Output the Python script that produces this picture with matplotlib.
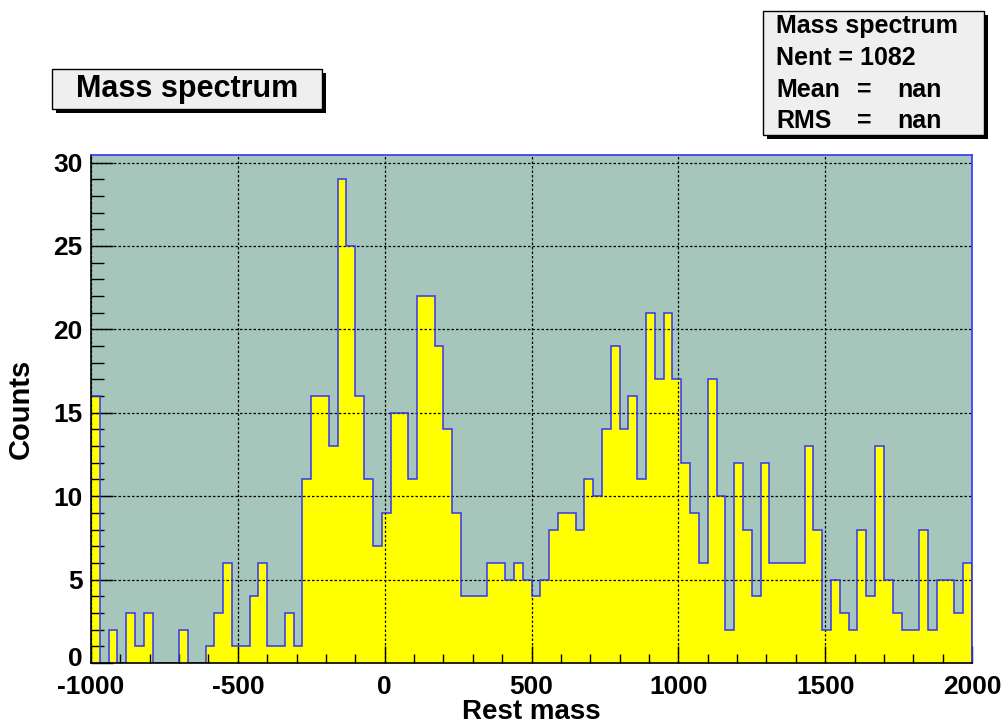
import numpy as np
import matplotlib
matplotlib.use("Agg")
import matplotlib.pyplot as plt
from matplotlib.patches import Rectangle
from matplotlib.ticker import MultipleLocator, FuncFormatter

# ---- data ----
x_min, x_max, n_bins = -1000, 2000, 100
counts = [
    16, 0, 2, 0, 3, 1, 3, 0, 0, 0,
    2, 0, 0, 1, 3, 6, 1, 1, 4, 6,
    1, 1, 3, 1, 11, 16, 16, 13, 29, 25,
    16, 11, 7, 9, 15, 15, 11, 22, 22, 19,
    14, 9, 4, 4, 4, 6, 6, 5, 6, 5,
    4, 5, 8, 9, 9, 8, 11, 10, 14, 19,
    14, 16, 11, 21, 17, 21, 17, 12, 9, 6,
    17, 10, 2, 12, 8, 4, 12, 6, 6, 6,
    6, 13, 8, 2, 5, 3, 2, 8, 4, 13,
    5, 3, 2, 2, 8, 2, 5, 5, 3, 6,
]
title = "Mass spectrum"
x_title = "Rest mass"
y_title = "Counts"
stats_name = "Mass spectrum"
stats_nent = "Nent = 1082"
stats_rows = [("Mean", "=", "nan"), ("RMS", "=", "nan")]

# ---- style ----
FONT = "Liberation Sans"
plt.rcParams["font.family"] = [FONT, "DejaVu Sans"]
plt.rcParams["font.weight"] = "bold"
plt.rcParams["axes.unicode_minus"] = False

W, H = 1006, 724
fig = plt.figure(figsize=(W / 100, H / 100), dpi=100)
fig.patch.set_facecolor("white")

def fx(px):
    return px / W

def fy(py):
    return 1 - py / H

ax_l, ax_r, ax_t, ax_b = 91, 972, 155, 663
ax = fig.add_axes([fx(ax_l), fy(ax_b), fx(ax_r) - fx(ax_l), fy(ax_t) - fy(ax_b)])
ax.set_facecolor("#a6c6bc")

edges = np.linspace(x_min, x_max, n_bins + 1)
vals = np.array(counts, dtype=float)
ax.stairs(vals, edges, fill=True, color="#ffff00", zorder=2)
ax.stairs(vals, edges, fill=False, color="#3535f5", linewidth=1.1, baseline=0, zorder=3)

ax.set_xlim(x_min, x_max)
ax.set_ylim(0, max(counts) * 1.05)

ax.xaxis.set_major_locator(MultipleLocator(500))
ax.xaxis.set_minor_locator(MultipleLocator(100))
ax.yaxis.set_major_locator(MultipleLocator(5))
ax.yaxis.set_minor_locator(MultipleLocator(1))
# the "0" y label is drawn separately (slightly raised so it clears "-1000")
ax.yaxis.set_major_formatter(FuncFormatter(lambda v, p: "" if v == 0 else f"{v:g}"))

TS = 19
ax.tick_params(axis="x", which="major", direction="in", length=12, width=1.0, pad=9,
               labelsize=TS, color="black", top=False)
ax.tick_params(axis="x", which="minor", direction="in", length=6.5, width=1.0, top=False)
ax.tick_params(axis="y", which="major", direction="in", length=16, width=1.0, pad=6,
               labelsize=TS, color="black", right=False)
ax.tick_params(axis="y", which="minor", direction="in", length=9.5, width=1.0, right=False)
for lab in ax.get_xticklabels() + ax.get_yticklabels():
    lab.set_fontweight("bold")

ax.annotate("0", xy=(0, 0), xycoords="axes fraction", xytext=(-8.5, 4),
            textcoords="offset pixels", ha="right", va="center", fontsize=TS,
            fontweight="bold", annotation_clip=False)

ax.grid(True, which="major", color="black", linestyle=(0, (2, 1.6)), linewidth=0.9, zorder=4)
ax.set_axisbelow(False)

ax.spines["left"].set_color("black")
ax.spines["bottom"].set_color("black")
ax.spines["left"].set_linewidth(1.2)
ax.spines["bottom"].set_linewidth(1.2)
ax.spines["top"].set_color("#3535f5")
ax.spines["right"].set_color("#3535f5")
ax.spines["top"].set_linewidth(1.2)
ax.spines["right"].set_linewidth(1.2)
for s in ax.spines.values():
    s.set_zorder(6)

# axis titles
fig.text(fx((ax_l + ax_r) / 2), fy(719), x_title, ha="center", va="baseline",
         fontsize=20, fontweight="bold")
fig.text(fx(21), fy((ax_t + ax_b) / 2), y_title, ha="center", va="center",
         rotation=90, fontsize=21, fontweight="bold")

# boxes with shadow
def box(x0, y0, x1, y1, sh=4):
    shadow = Rectangle((fx(x0 + sh), fy(y1 + sh)), fx(x1) - fx(x0), fy(y0) - fy(y1),
                       transform=fig.transFigure, facecolor="black", edgecolor="none",
                       zorder=1)
    rect = Rectangle((fx(x0), fy(y1)), fx(x1) - fx(x0), fy(y0) - fy(y1),
                     transform=fig.transFigure, facecolor="#efefef", edgecolor="black",
                     linewidth=1.0, zorder=2)
    fig.patches.extend([shadow, rect])

box(52, 69, 322, 109)
fig.text(fx(187), fy(89), title, ha="center", va="center", fontsize=22,
         fontweight="bold", zorder=3)

ST = 18
box(763, 11, 984, 135)
fig.text(fx(776), fy(33), stats_name, ha="left", va="baseline", fontsize=ST,
         fontweight="bold", zorder=3)
fig.text(fx(776), fy(65), stats_nent, ha="left", va="baseline", fontsize=ST,
         fontweight="bold", zorder=3)
for i, (name, eq, v) in enumerate(stats_rows):
    yb = 97 + 31 * i
    fig.text(fx(776), fy(yb), name, ha="left", va="baseline", fontsize=ST,
             fontweight="bold", zorder=3)
    fig.text(fx(857), fy(yb), eq, ha="left", va="baseline", fontsize=ST,
             fontweight="bold", zorder=3)
    fig.text(fx(897), fy(yb), v, ha="left", va="baseline", fontsize=ST,
             fontweight="bold", zorder=3)

fig.savefig("out.png", dpi=100)
